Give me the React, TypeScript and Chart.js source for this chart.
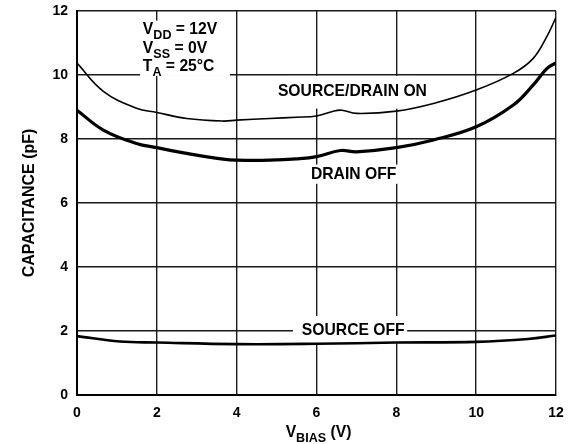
import React, { useEffect, useRef } from "react";
import { Chart, registerables } from "chart.js";

Chart.register(...registerables);

// V_BIAS (V) sample points and capacitance (pF)
const sdOnV = [0, 0.66, 1.49, 2, 2.75, 3.66, 4, 4.83, 5.5, 6, 6.42, 6.63, 7, 8, 8.93, 10, 10.93, 11.43, 11.77, 12];
const sdOnC = [10.37, 9.49, 8.96, 8.83, 8.64, 8.56, 8.59, 8.64, 8.68, 8.72, 8.87, 8.9, 8.8, 8.87, 9.11, 9.53, 10.05, 10.52, 11.2, 11.8];

const drainOffV = [0, 0.66, 1.49, 2, 2.75, 3.66, 4, 4.83, 5.5, 6, 6.6, 7, 8, 8.93, 10, 10.93, 11.43, 11.77, 12];
const drainOffC = [8.9, 8.28, 7.86, 7.73, 7.55, 7.37, 7.34, 7.34, 7.38, 7.45, 7.64, 7.6, 7.73, 7.97, 8.38, 9.06, 9.69, 10.2, 10.38];

const srcOffV = [0, 1.08, 2, 4, 6, 8, 10, 11.3, 12];
const srcOffC = [1.84, 1.67, 1.64, 1.59, 1.6, 1.64, 1.66, 1.75, 1.86];

const xTicks = [0, 2, 4, 6, 8, 10, 12];
const yTicks = [0, 2, 4, 6, 8, 10, 12];

const FONT = "'Liberation Sans', Arial, sans-serif";

type Label = { text: string; x: number; y: number; box: [number, number, number, number] };
// label centers (data coords) and white box extents (x0, x1, y0, y1 in data coords)
const curveLabels: Label[] = [
  { text: "SOURCE/DRAIN ON", x: 6.9, y: 9.47, box: [5.3, 8.5, 8.95, 9.97] },
  { text: "DRAIN OFF", x: 6.93, y: 6.87, box: [5.45, 8.1, 6.6, 7.2] },
  { text: "SOURCE OFF", x: 6.92, y: 2.02, box: [5.41, 8.27, 1.63, 2.47] },
];

const condLines = [
  { main: "V", sub: "DD", rest: " = 12V" },
  { main: "V", sub: "SS", rest: " = 0V" },
  { main: "T", sub: "A", rest: " = 25°C" },
];
const condX = 1.65;
const condY = [11.44, 10.84, 10.28];
const condBox: [number, number, number, number] = [1.58, 3.83, 9.97, 11.7];

function drawSub(ctx: CanvasRenderingContext2D, x: number, y: number, main: string, sub: string, rest: string, size: number, align: "left" | "center") {
  const mf = `bold ${size}px ${FONT}`;
  const sf = `bold ${size * 0.8}px ${FONT}`;
  ctx.font = mf;
  const w1 = ctx.measureText(main).width;
  const w3 = ctx.measureText(rest).width;
  ctx.font = sf;
  const w2 = ctx.measureText(sub).width;
  const total = w1 + w2 + w3;
  let sx = align === "center" ? x - total / 2 : x;
  ctx.textAlign = "left";
  ctx.textBaseline = "alphabetic";
  ctx.font = mf;
  ctx.fillText(main, sx, y);
  ctx.font = sf;
  ctx.fillText(sub, sx + w1, y + size * 0.3);
  ctx.font = mf;
  ctx.fillText(rest, sx + w1 + w2, y);
}

const labelPlugin = {
  id: "labels",
  beforeDatasetsDraw(chart: any) {
    const { ctx, scales } = chart;
    const xs = scales.x, ys = scales.y;
    ctx.save();
    ctx.fillStyle = "#fff";
    const boxes = [...curveLabels.map((l) => l.box), condBox];
    for (const b of boxes) {
      const x0 = xs.getPixelForValue(b[0]);
      const x1 = xs.getPixelForValue(b[1]);
      const y0 = ys.getPixelForValue(b[3]);
      const y1 = ys.getPixelForValue(b[2]);
      ctx.fillRect(x0, y0, x1 - x0, y1 - y0);
    }
    ctx.fillStyle = "#000";
    ctx.font = `bold 15.7px ${FONT}`;
    ctx.textAlign = "center";
    ctx.textBaseline = "middle";
    for (const l of curveLabels) {
      ctx.fillText(l.text, xs.getPixelForValue(l.x), ys.getPixelForValue(l.y));
    }
    condLines.forEach((c, i) => {
      drawSub(ctx, xs.getPixelForValue(condX), ys.getPixelForValue(condY[i]) + 5, c.main, c.sub, c.rest, 15.7, "left");
    });
    ctx.restore();
  },
  afterDraw(chart: any) {
    const { ctx, chartArea } = chart;
    ctx.save();
    ctx.fillStyle = "#000";
    // x title
    drawSub(ctx, (chartArea.left + chartArea.right) / 2 + 2, 437, "V", "BIAS", " (V)", 15.7, "center");
    // y title
    ctx.translate(30, (chartArea.top + chartArea.bottom) / 2);
    ctx.rotate(-Math.PI / 2);
    ctx.font = `bold 16px ${FONT}`;
    ctx.textAlign = "center";
    ctx.textBaseline = "middle";
    ctx.fillText("CAPACITANCE (pF)", 0, 0);
    ctx.restore();
  },
};

export default function App() {
  const ref = useRef<HTMLCanvasElement>(null);
  useEffect(() => {
    document.body.style.margin = "0";
    const toXY = (xs: number[], ys: number[]) => xs.map((x, i) => ({ x, y: ys[i] }));
    const chart = new Chart(ref.current!, {
      type: "line",
      data: {
        datasets: [
          { label: "SOURCE/DRAIN ON", data: toXY(sdOnV, sdOnC), borderColor: "#000", borderWidth: 1.6, pointRadius: 0, tension: 0.4, fill: false },
          { label: "DRAIN OFF", data: toXY(drainOffV, drainOffC), borderColor: "#000", borderWidth: 3.2, pointRadius: 0, tension: 0.4, fill: false },
          { label: "SOURCE OFF", data: toXY(srcOffV, srcOffC), borderColor: "#000", borderWidth: 2.6, pointRadius: 0, tension: 0.4, fill: false },
        ],
      },
      options: {
        responsive: false,
        animation: false,
        events: [],
        layout: { padding: { left: 37, right: 17, top: 11, bottom: 19 } },
        plugins: { legend: { display: false }, tooltip: { enabled: false } },
        scales: {
          x: {
            type: "linear",
            min: 0,
            max: 12,
            afterFit: (s: any) => { s.height = 30; s.paddingLeft = 0; s.paddingRight = 0; },
            afterBuildTicks: (s: any) => { s.ticks = xTicks.map((v) => ({ value: v })); },
            grid: { color: "#1a1a1a", lineWidth: 1.4, drawTicks: false },
            border: { color: "#000", width: 2 },
            ticks: { color: "#000", padding: 10, font: { family: FONT, size: 14, weight: "bold" } },
          },
          y: {
            type: "linear",
            min: 0,
            max: 12,
            afterFit: (s: any) => { s.width = 40; s.paddingTop = 0; s.paddingBottom = 0; },
            afterBuildTicks: (s: any) => { s.ticks = yTicks.map((v) => ({ value: v })); },
            grid: { color: "#1a1a1a", lineWidth: 1.4, drawTicks: false },
            border: { color: "#000", width: 2 },
            ticks: { color: "#000", padding: 9, font: { family: FONT, size: 14, weight: "bold" } },
          },
        },
      },
      plugins: [labelPlugin],
    } as any);
    return () => chart.destroy();
  }, []);
  return (
    <div style={{ width: 573, height: 444 }}>
      <canvas ref={ref} width={573} height={444} style={{ display: "block" }} />
    </div>
  );
}
